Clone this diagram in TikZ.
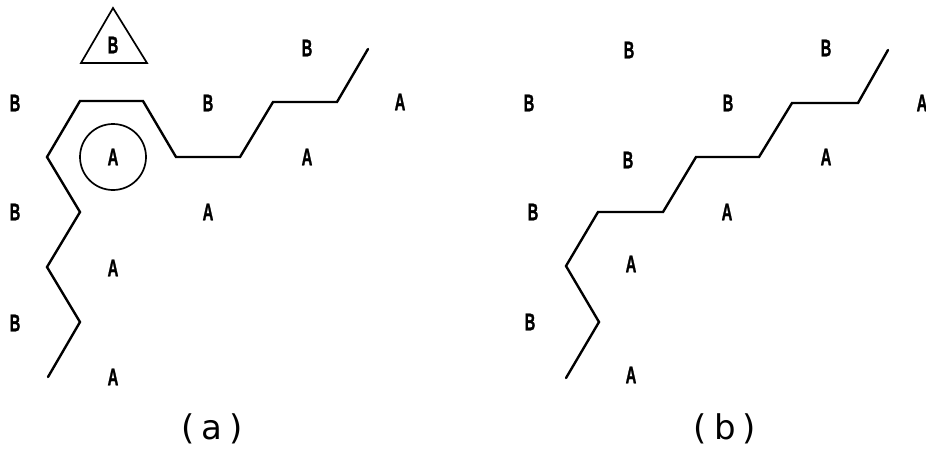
\documentclass[tikz,border=0pt]{standalone}
\usepackage{fontspec}
\setmainfont{Liberation Sans}
\newfontfamily\capfont{DejaVu Sans}
\newfontfamily\labfont[FakeBold=1.5]{Liberation Sans Bold}
\begin{document}
\begin{tikzpicture}[x=1pt,y=-1pt,
  lab/.style={inner sep=0pt,font=\labfont\fontsize{24}{24}\selectfont,xscale=0.62},
  chain/.style={line width=2.4pt,line join=miter,line cap=round},
  outline/.style={line width=1.7pt},
  captext/.style={inner sep=0pt,font=\capfont\fontsize{34}{34}\selectfont}]
\useasboundingbox (0,0) rectangle (926,450);
% ---------- panel (a) ----------
\node[lab] (aB1) at (15,103) {B};
\node[lab] (aBt) at (113,45) {B};
\node[lab] (aB2) at (307,48) {B};
\node[lab] (aB3) at (208,103) {B};
\node[lab] (aA1) at (400,102) {A};
\node[lab] (aAc) at (113,157) {A};
\node[lab] (aA2) at (307,157) {A};
\node[lab] (aB4) at (15,212) {B};
\node[lab] (aA3) at (208,212) {A};
\node[lab] (aA4) at (113,268) {A};
\node[lab] (aB5) at (15,323) {B};
\node[lab] (aA5) at (113,377) {A};
\node[outline,draw,circle,minimum size=66pt,inner sep=0pt] (circ) at (113,157) {};
\coordinate (t1) at (113,8);
\coordinate (t2) at (147,63);
\coordinate (t3) at (81,63);
\draw[outline,line join=miter] (t1) -- (t2) -- (t3) -- cycle;
\coordinate (p1) at (48,377);
\coordinate (p2) at (80,322);
\coordinate (p3) at (47,267);
\coordinate (p4) at (80,212);
\coordinate (p5) at (47,157);
\coordinate (p6) at (80,101);
\coordinate (p7) at (143,101);
\coordinate (p8) at (176,157);
\coordinate (p9) at (240,157);
\coordinate (p10) at (273,102);
\coordinate (p11) at (337,102);
\coordinate (p12) at (368,49);
\draw[chain] (p1) -- (p2) -- (p3) -- (p4) -- (p5) -- (p6) -- (p7) -- (p8) -- (p9) -- (p10) -- (p11) -- (p12);
\node[captext] (capa) at (212,429) {(\hspace{7pt}a\hspace{7pt})};
% ---------- panel (b) ----------
\node[lab] (bB1) at (629,50) {B};
\node[lab] (bB2) at (826,48) {B};
\node[lab] (bB3) at (529,103) {B};
\node[lab] (bB4) at (728,103) {B};
\node[lab] (bA1) at (922,103) {A};
\node[lab] (bB5) at (628,160) {B};
\node[lab] (bA2) at (826,157) {A};
\node[lab] (bB6) at (533,212) {B};
\node[lab] (bA3) at (727,212) {A};
\node[lab] (bA4) at (631,264) {A};
\node[lab] (bB7) at (530,322) {B};
\node[lab] (bA5) at (631,375) {A};
\coordinate (q1) at (566,378);
\coordinate (q2) at (599,322);
\coordinate (q3) at (566,266);
\coordinate (q4) at (598,212);
\coordinate (q5) at (663,212);
\coordinate (q6) at (696,157);
\coordinate (q7) at (759,157);
\coordinate (q8) at (792,103);
\coordinate (q9) at (858,103);
\coordinate (q10) at (888,50);
\draw[chain] (q1) -- (q2) -- (q3) -- (q4) -- (q5) -- (q6) -- (q7) -- (q8) -- (q9) -- (q10);
\node[captext] (capb) at (725,429) {(\hspace{7pt}b\hspace{7pt})};
\end{tikzpicture}
\end{document}
